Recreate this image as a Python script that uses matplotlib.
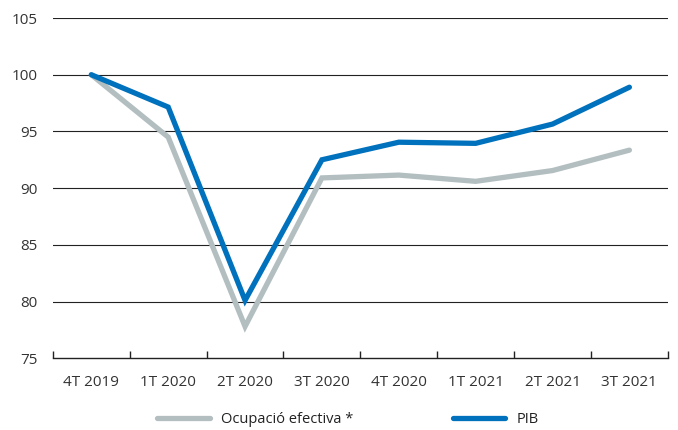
import matplotlib.pyplot as plt
import numpy as np

# Quarters and index values (4T 2019 = 100)
quarters = ['4T 2019', '1T 2020', '2T 2020', '3T 2020', '4T 2020', '1T 2021', '2T 2021', '3T 2021']
ocupacio = [100, 94.5, 77.8, 90.9, 91.15, 90.6, 91.55, 93.35]
pib = [100, 97.15, 80.1, 92.5, 94.05, 93.95, 95.65, 98.9]

plt.rcParams['font.family'] = ['Open Sans', 'DejaVu Sans']

fig = plt.figure(figsize=(6.78, 4.30), dpi=100)
ax = fig.add_axes([0.078, 0.167, 0.907, 0.791])

x = np.arange(len(quarters))
l1, = ax.plot(x, ocupacio, color='#b3bec0', linewidth=3.8, solid_capstyle='round',
              solid_joinstyle='miter', label='Ocupació efectiva *')
l2, = ax.plot(x, pib, color='#0071bc', linewidth=3.8, solid_capstyle='round',
              solid_joinstyle='miter', label='PIB')

ax.set_ylim(75, 105)
ax.set_yticks([75, 80, 85, 90, 95, 100, 105])
ax.set_xlim(-0.5, len(quarters) - 0.5)
ax.set_xticks(x)
ax.set_xticklabels(quarters)
ax.set_xticks(np.arange(-0.5, len(quarters)), minor=True)

# horizontal grid lines
for yv in [80, 85, 90, 95, 100, 105]:
    ax.axhline(yv, color='#222222', linewidth=0.8, zorder=0)

for s in ['top', 'right', 'left']:
    ax.spines[s].set_visible(False)
ax.spines['bottom'].set_color('#222222')
ax.spines['bottom'].set_linewidth(1.0)

ax.tick_params(axis='y', length=0, pad=11, labelsize=11, labelcolor='#333333')
ax.tick_params(axis='x', which='major', length=0, pad=12, labelsize=11, labelcolor='#333333')
ax.tick_params(axis='x', which='minor', direction='in', length=5, width=1.0, color='#222222')

# two legend entries placed separately
for line, xa in [(l1, 0.2316), (l2, 0.668)]:
    fig.legend(handles=[line], loc='center left', bbox_to_anchor=(xa, 0.025),
               frameon=False, borderpad=0, borderaxespad=0, handlelength=3.6,
               handletextpad=0.8, fontsize=10.5, labelcolor='#222222')

plt.savefig('out.png', dpi=100)
